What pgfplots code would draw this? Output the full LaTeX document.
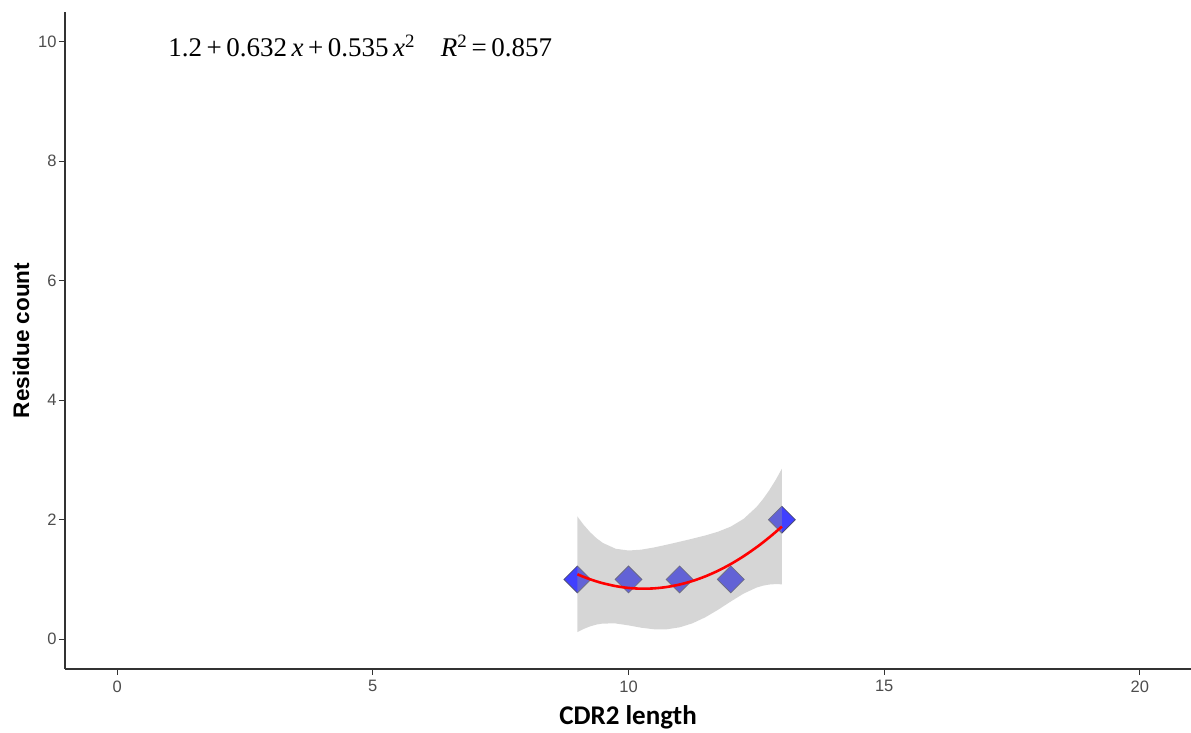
\documentclass[border=0pt]{standalone}
\usepackage{pgfplots}
\pgfplotsset{compat=1.18}
\usepackage{pgfplotstable}
\usepackage{fontspec}
\setmainfont{Liberation Sans}
\newfontfamily\carlito{Carlito}
\newfontfamily\serifeq{Liberation Serif}
\definecolor{axisgray}{HTML}{333333}
\definecolor{tickgray}{HTML}{4D4D4D}
\definecolor{bandgray}{HTML}{999999}
\definecolor{ptblue}{HTML}{0000FF}
\definecolor{ptedge}{HTML}{4A4A6A}

\pgfplotstableread{
x y
9 1
10 1
11 1
12 1
13 2
}\pts

\pgfplotstableread{
x y
9 1.085714
9.125 1.041518
9.25 1.001786
9.375 0.966518
9.5 0.935714
9.75 0.887500
10 0.857143
10.25 0.844643
10.5 0.850000
10.75 0.873214
11 0.914286
11.25 0.973214
11.5 1.050000
11.75 1.144643
12 1.257143
12.25 1.387500
12.5 1.535714
12.625 1.616518
12.75 1.701786
12.875 1.791518
13 1.885714
}\fit

\begin{document}
\begin{tikzpicture}
\begin{axis}[
  set layers=standard,
  scale only axis, width=1126pt, height=657pt,
  xmin=-1.02, xmax=21, ymin=-0.5, ymax=10.5,
  axis x line=bottom, axis y line=left,
  axis line style={axisgray, line width=1.1pt, -},
  xtick={0,5,10,15,20}, ytick={0,2,4,6,8,10},
  tick align=outside, major tick length=6pt,
  tick style={axisgray, line width=1pt},
  ticklabel style={font=\fontsize{16.5}{16.5}\selectfont, text=tickgray},
  xticklabel style={yshift=-2pt},
  yticklabel style={xshift=1pt},
  /pgf/number format/assume math mode=true,
  xlabel={\carlito\bfseries CDR2 length},
  xlabel style={font=\fontsize{27}{27}\selectfont, text=black, yshift=-6pt},
  ylabel={\bfseries Residue count},
  ylabel style={font=\fontsize{22.5}{22.5}\selectfont, text=black, yshift=2pt},
  clip=false,
]
% points
\addplot[only marks, mark=square*, mark size=9.5pt,
  mark options={rotate=45, fill=ptblue, fill opacity=0.75, draw=ptedge, draw opacity=0.9, line width=0.8pt}]
  table[x=x, y=y] {\pts};
% confidence band
\addplot[on layer=axis foreground, draw=none, fill=bandgray, fill opacity=0.4] coordinates {
(9,2.053689) (9.125,1.911612) (9.25,1.789729) (9.375,1.688968) (9.5,1.609746) (9.75,1.513063)
(10,1.483980) (10.25,1.498266) (10.5,1.535152) (10.75,1.581623) (11,1.631103)
(11.25,1.681623) (11.5,1.735152) (11.75,1.798266) (12,1.883980) (12.25,2.013063)
(12.5,2.209746) (12.625,2.338968) (12.75,2.489729) (12.875,2.661612) (13,2.853689)
(13,0.917739) (12.875,0.921424) (12.75,0.913843) (12.625,0.894068) (12.5,0.861682) (12.25,0.761937)
(12,0.630306) (11.75,0.491020) (11.5,0.364848) (11.25,0.264805) (11,0.197469)
(10.75,0.164805) (10.5,0.164848) (10.25,0.191020) (10,0.230306) (9.75,0.261937)
(9.5,0.261682) (9.375,0.244068) (9.25,0.213843) (9.125,0.171424) (9,0.117739)
} -- cycle;
% fitted curve
\addplot[on layer=axis foreground, red, line width=2.6pt, no marks, smooth] table[x=x, y=y] {\fit};
\node[anchor=west, font=\serifeq\fontsize{27}{27}\selectfont, text=black, inner sep=0pt]
  at (axis cs:1.0,9.93) {1.2\,+\,0.632\,\textit{x}\,+\,0.535\,\textit{x}\textsuperscript{2}\hspace{0.95em}\textit{R}\textsuperscript{2}\,=\,0.857};
\end{axis}
\pgfresetboundingbox
\path[use as bounding box] ([xshift=-65pt,yshift=-64pt]current axis.south west) rectangle ([yshift=12pt]current axis.north east);
\end{tikzpicture}
\end{document}
